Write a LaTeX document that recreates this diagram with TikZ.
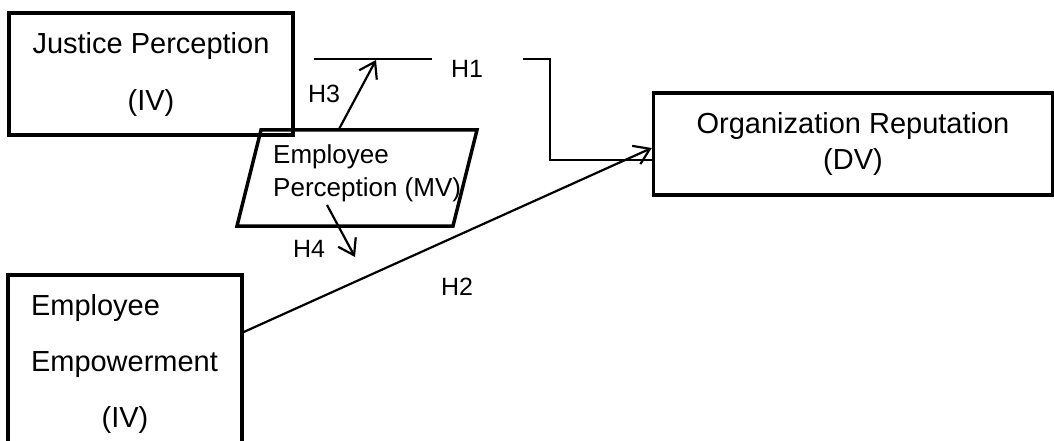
\documentclass[tikz,border=0pt]{standalone}
\usepackage{fontspec}
\setmainfont{Liberation Sans}
\usetikzlibrary{arrows.meta}

\begin{document}
\begin{tikzpicture}[x=1pt,y=-1pt,
  var/.style={draw, line width=3.5pt, inner sep=0pt},
  big/.style={font=\fontsize{29}{57}\selectfont},
  hyp/.style={font=\fontsize{25}{30}\selectfont, inner sep=0pt},
  link/.style={line width=2.2pt},
  arr/.style={line width=2.2pt, -{Straight Barb[length=15pt,width=20pt]}}]
\clip (0,0) rectangle (1054,441);
% variables
\node [var, big, align=center, minimum width=284, minimum height=122] (jp) at (151,74) {Justice Perception\\(IV)};
\begin{scope}[shift={(357,178)}]
\node [var, xslant=0.25, transform shape, minimum width=216, minimum height=96] (ep) at (0,0) {};
\end{scope}
\node [inner sep=0pt, align=left, anchor=west, font=\fontsize{26}{33}\selectfont] (eptext) at (273,173) {Employee\\Perception (MV)};
\node [var, font=\fontsize{29}{36}\selectfont, align=center, minimum width=399, minimum height=102] (org) at (853,144) {Organization Reputation\\(DV)};
\node [var, font=\fontsize{29}{56}\selectfont, align=left, text width=188, minimum width=234, minimum height=178] (ee) at (125,364) {Employee\\Empowerment\\\makebox[188pt]{(IV)}};
% hypotheses
\coordinate (h1a) at (314,59);
\coordinate (h1b) at (432,59);
\coordinate (h1c) at (523,59);
\coordinate (h1turn) at (550,160);
\coordinate (h3tip) at (376,60);
\coordinate (h4tip) at (355,257);
\draw [link] (h1a) -- (h1b);
\draw [link] (h1c) -| (h1turn) -- (h1turn -| org.west);
\node [hyp] (h1) at (467,69) {H1};
\draw [arr] ([yshift=32pt]ee.east) -- ([yshift=-4pt]org.west);
\node [hyp] (h2) at (457,287) {H2};
\draw [arr] ([xshift=-30pt]ep.north) -- (h3tip);
\node [hyp] (h3) at (324,94) {H3};
\draw [arr] ([shift={(-30,27)}]ep.center) -- (h4tip);
\node [hyp] (h4) at (309,249) {H4};
\end{tikzpicture}
\end{document}
